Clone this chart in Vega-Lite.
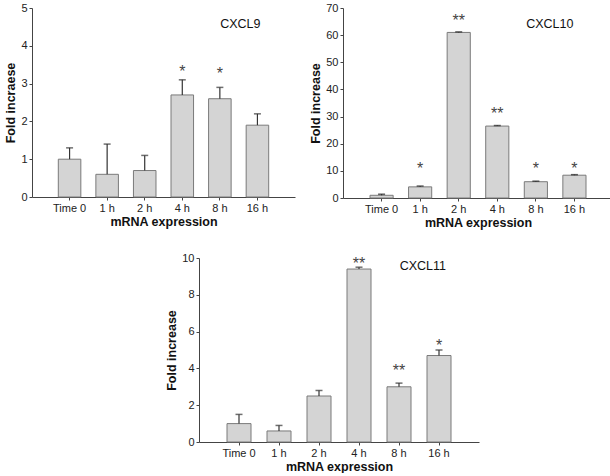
{
  "$schema": "https://vega.github.io/schema/vega-lite/v6.json",
  "padding": {"left": 4, "top": 2, "right": 0, "bottom": 0},
  "background": "white",
  "config": {
    "font": "Liberation Sans",
    "view": {"stroke": null},
    "axis": {
      "grid": false,
      "domainColor": "#444",
      "tickColor": "#444",
      "tickSize": 3,
      "labelFontSize": 11,
      "labelColor": "#222",
      "labelPadding": 2,
      "labelOverlap": false,
      "titleFontSize": 12.5,
      "titleFontWeight": "bold",
      "titleColor": "#111",
      "titlePadding": 3
    },
    "axisX": {"labelAngle": 0, "titlePadding": 2},
    "concat": {"spacing": 14}
  },
  "datasets": {
    "cxcl9": [
      {"time": "Time 0", "value": 1.0, "upper": 1.3, "stars": "", "star_y": null},
      {"time": "1 h", "value": 0.6, "upper": 1.4, "stars": "", "star_y": null},
      {"time": "2 h", "value": 0.7, "upper": 1.1, "stars": "", "star_y": null},
      {"time": "4 h", "value": 2.7, "upper": 3.1, "stars": "*", "star_y": 3.4},
      {"time": "8 h", "value": 2.6, "upper": 2.9, "stars": "*", "star_y": 3.35},
      {"time": "16 h", "value": 1.9, "upper": 2.2, "stars": "", "star_y": null}
    ],
    "cxcl10": [
      {"time": "Time 0", "value": 1.0, "upper": 1.4, "stars": "", "star_y": null},
      {"time": "1 h", "value": 4.1, "upper": 4.4, "stars": "*", "star_y": 12},
      {"time": "2 h", "value": 61.0, "upper": 61.2, "stars": "**", "star_y": 66.8},
      {"time": "4 h", "value": 26.5, "upper": 26.7, "stars": "**", "star_y": 32.3},
      {"time": "8 h", "value": 6.0, "upper": 6.2, "stars": "*", "star_y": 12},
      {"time": "16 h", "value": 8.4, "upper": 8.6, "stars": "*", "star_y": 12}
    ],
    "cxcl11": [
      {"time": "Time 0", "value": 1.0, "upper": 1.5, "stars": "", "star_y": null},
      {"time": "1 h", "value": 0.6, "upper": 0.9, "stars": "", "star_y": null},
      {"time": "2 h", "value": 2.5, "upper": 2.8, "stars": "", "star_y": null},
      {"time": "4 h", "value": 9.4, "upper": 9.5, "stars": "**", "star_y": 9.9},
      {"time": "8 h", "value": 3.0, "upper": 3.2, "stars": "**", "star_y": 4.1},
      {"time": "16 h", "value": 4.7, "upper": 5.0, "stars": "*", "star_y": 5.45}
    ]
  },
  "vconcat": [
    {
      "hconcat": [
        {
          "width": 263,
          "height": 189,
          "data": {"name": "cxcl9"},
          "encoding": {
            "x": {"field": "time", "type": "nominal", "sort": null,
                  "scale": {"paddingInner": 0.4, "paddingOuter": 0.7},
                  "axis": {"title": "mRNA expression"}}
          },
          "layer": [
            {"mark": {"type": "bar", "fill": "#d4d4d4", "stroke": "#7a7a7a", "strokeWidth": 1},
             "encoding": {"y": {"field": "value", "type": "quantitative",
                                "scale": {"domain": [0, 5], "nice": false},
                                "axis": {"title": "Fold incraese", "values": [0, 1, 2, 3, 4, 5], "labelOverlap": false}}}},
            {"mark": {"type": "rule", "color": "#333", "strokeWidth": 1.2},
             "encoding": {"y": {"field": "value", "type": "quantitative", "axis": {"title": "Fold incraese", "values": [0, 1, 2, 3, 4, 5], "labelOverlap": false}}, "y2": {"field": "upper"}}},
            {"mark": {"type": "tick", "color": "#333", "size": 7, "thickness": 1.5},
             "encoding": {"y": {"field": "upper", "type": "quantitative", "axis": {"title": "Fold incraese", "values": [0, 1, 2, 3, 4, 5], "labelOverlap": false}}}},
            {"mark": {"type": "text", "fontSize": 16, "color": "#444", "baseline": "middle", "dy": 4},
             "encoding": {"y": {"field": "star_y", "type": "quantitative", "axis": {"title": "Fold incraese", "values": [0, 1, 2, 3, 4, 5], "labelOverlap": false}}, "text": {"field": "stars"}}},
            {"data": {"values": [{}]},
             "mark": {"type": "text", "fontSize": 12.5, "color": "#111", "align": "right", "baseline": "middle", "dx": 3},
             "encoding": {"x": {"datum": "16 h", "type": "nominal"}, "y": {"datum": 4.58, "type": "quantitative", "axis": {"title": "Fold incraese", "values": [0, 1, 2, 3, 4, 5], "labelOverlap": false}}, "text": {"value": "CXCL9"}}}
          ]
        },
        {
          "width": 270,
          "height": 190,
          "data": {"name": "cxcl10"},
          "encoding": {
            "x": {"field": "time", "type": "nominal", "sort": null,
                  "scale": {"paddingInner": 0.4, "paddingOuter": 0.7},
                  "axis": {"title": "mRNA expression"}}
          },
          "layer": [
            {"mark": {"type": "bar", "fill": "#d4d4d4", "stroke": "#7a7a7a", "strokeWidth": 1},
             "encoding": {"y": {"field": "value", "type": "quantitative",
                                "scale": {"domain": [0, 70], "nice": false},
                                "axis": {"title": "Fold increase", "values": [0, 10, 20, 30, 40, 50, 60, 70], "labelOverlap": false}}}},
            {"mark": {"type": "rule", "color": "#333", "strokeWidth": 1.2},
             "encoding": {"y": {"field": "value", "type": "quantitative", "axis": {"title": "Fold increase", "values": [0, 10, 20, 30, 40, 50, 60, 70], "labelOverlap": false}}, "y2": {"field": "upper"}}},
            {"mark": {"type": "tick", "color": "#222", "size": 7, "thickness": 1.5},
             "encoding": {"y": {"field": "upper", "type": "quantitative", "axis": {"title": "Fold increase", "values": [0, 10, 20, 30, 40, 50, 60, 70], "labelOverlap": false}}}},
            {"mark": {"type": "text", "fontSize": 16, "color": "#444", "baseline": "middle", "dy": 4},
             "encoding": {"y": {"field": "star_y", "type": "quantitative", "axis": {"title": "Fold increase", "values": [0, 10, 20, 30, 40, 50, 60, 70], "labelOverlap": false}}, "text": {"field": "stars"}}},
            {"data": {"values": [{}]},
             "mark": {"type": "text", "fontSize": 12.5, "color": "#111", "align": "right", "baseline": "middle", "dx": -1},
             "encoding": {"x": {"datum": "16 h", "type": "nominal"}, "y": {"datum": 64, "type": "quantitative", "axis": {"title": "Fold increase", "values": [0, 10, 20, 30, 40, 50, 60, 70], "labelOverlap": false}}, "text": {"value": "CXCL10"}}}
          ]
        }
      ]
    },
    {
      "spacing": 0,
      "hconcat": [
        {
          "width": 133,
          "height": 10,
          "data": {"values": []},
          "mark": "text"
        },
        {
          "width": 280,
          "height": 184,
          "data": {"name": "cxcl11"},
          "encoding": {
            "x": {"field": "time", "type": "nominal", "sort": null,
                  "scale": {"paddingInner": 0.4, "paddingOuter": 0.7},
                  "axis": {"title": "mRNA expression"}}
          },
          "layer": [
            {"mark": {"type": "bar", "fill": "#d4d4d4", "stroke": "#7a7a7a", "strokeWidth": 1},
             "encoding": {"y": {"field": "value", "type": "quantitative",
                                "scale": {"domain": [0, 10], "nice": false},
                                "axis": {"title": "Fold increase", "values": [0, 2, 4, 6, 8, 10], "labelOverlap": false}}}},
            {"mark": {"type": "rule", "color": "#333", "strokeWidth": 1.2},
             "encoding": {"y": {"field": "value", "type": "quantitative", "axis": {"title": "Fold increase", "values": [0, 2, 4, 6, 8, 10], "labelOverlap": false}}, "y2": {"field": "upper"}}},
            {"mark": {"type": "tick", "color": "#333", "size": 7, "thickness": 1.5},
             "encoding": {"y": {"field": "upper", "type": "quantitative", "axis": {"title": "Fold increase", "values": [0, 2, 4, 6, 8, 10], "labelOverlap": false}}}},
            {"mark": {"type": "text", "fontSize": 16, "color": "#444", "baseline": "middle", "dy": 4},
             "encoding": {"y": {"field": "star_y", "type": "quantitative", "axis": {"title": "Fold increase", "values": [0, 2, 4, 6, 8, 10], "labelOverlap": false}}, "text": {"field": "stars"}}},
            {"data": {"values": [{}]},
             "mark": {"type": "text", "fontSize": 12.5, "color": "#111", "align": "right", "baseline": "middle", "dx": 7},
             "encoding": {"x": {"datum": "16 h", "type": "nominal"}, "y": {"datum": 9.57, "type": "quantitative", "axis": {"title": "Fold increase", "values": [0, 2, 4, 6, 8, 10], "labelOverlap": false}}, "text": {"value": "CXCL11"}}}
          ]
        }
      ]
    }
  ],
  "spacing": 23
}
